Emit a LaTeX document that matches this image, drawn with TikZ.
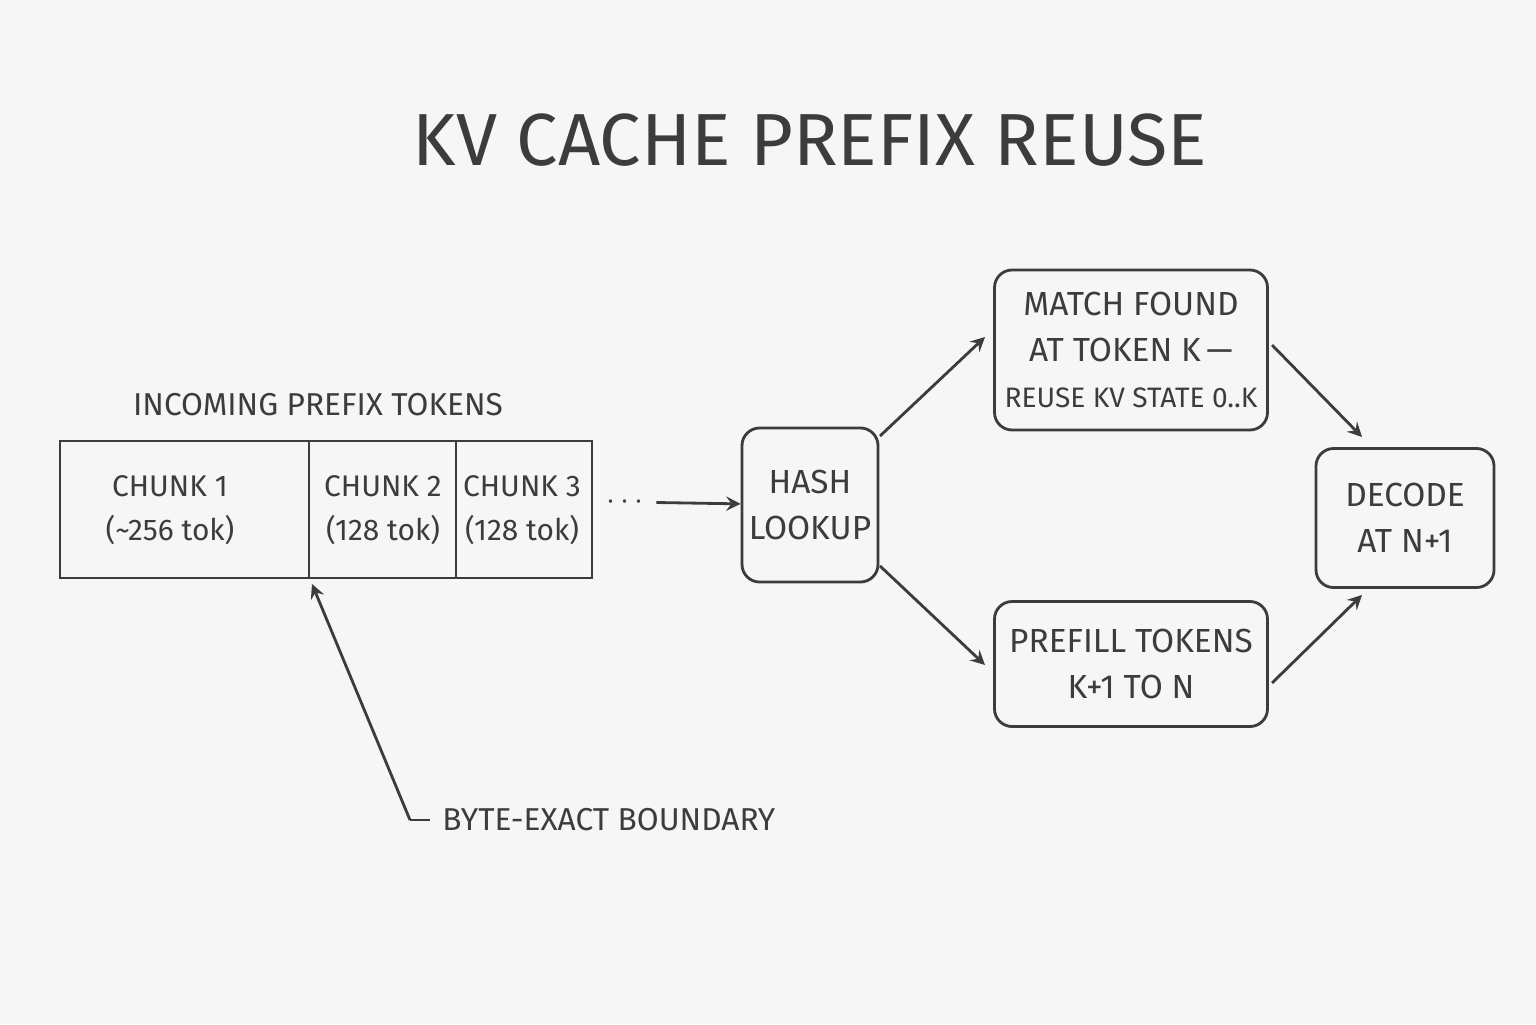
\documentclass[tikz,border=0pt]{standalone}
\usepackage{fontspec}
\setmainfont{Fira Sans}
\usetikzlibrary{positioning}
\definecolor{ink}{RGB}{60,60,60}
\definecolor{paper}{RGB}{246,246,246}

\begin{document}
\begin{tikzpicture}[x=1cm,y=1cm,
    ink/.style={draw=ink, line width=0.8pt},
    box/.style={ink, rounded corners=5pt, align=center, inner sep=0pt, font=\fontsize{9.5}{13}\selectfont, text=ink},
    lbl/.style={text=ink, font=\fontsize{9}{12.5}\selectfont},
    arr/.style={ink, ->, >=stealth}]
    \fill [paper] (0,0) rectangle (15.36,10.24);            % background
    \useasboundingbox (0,0) rectangle (15.36,10.24);

    \node [text=ink, font=\fontsize{21}{25}\selectfont] (title) at (8.1,8.84) {KV CACHE PREFIX REUSE};

    % incoming chunks
    \node [lbl] (incoming) at (3.18,6.19) {INCOMING PREFIX TOKENS};
    \draw [ink] (0.60,4.46) rectangle (5.92,5.83);
    \draw [ink] (3.09,4.46) -- (3.09,5.83);
    \draw [ink] (4.56,4.46) -- (4.56,5.83);
    \coordinate (seam) at (3.12,4.40);
    \node [lbl, align=center, font=\fontsize{8.5}{12.5}\selectfont] (chunkA) at (1.70,5.14) {CHUNK 1\\(\char"7E 256 tok)};
    \node [lbl, align=center, font=\fontsize{8.5}{12.5}\selectfont] (chunkB) at (3.83,5.14) {CHUNK 2\\(128 tok)};
    \node [lbl, align=center, font=\fontsize{8.5}{12.5}\selectfont] (chunkC) at (5.22,5.14) {CHUNK 3\\(128 tok)};
    \node [lbl] (dots) at (6.25,5.22) {$\cdots$};

    % flow boxes
    \node [box, minimum width=1.36cm, minimum height=1.54cm] (hash) at (8.10,5.19) {HASH\\LOOKUP};
    \node [box, minimum width=2.73cm, minimum height=1.60cm] (match) at (11.31,6.74) {MATCH FOUND\\AT TOKEN K\,---\\{\fontsize{8}{13}\selectfont REUSE KV STATE 0..K}};
    \node [box, minimum width=2.73cm, minimum height=1.25cm] (prefill) at (11.31,3.60) {PREFILL TOKENS\\K+1 TO N};
    \node [box, minimum width=1.78cm, minimum height=1.39cm] (decode) at (14.05,5.06) {DECODE\\AT N+1};

    \coordinate (matchIn) at (9.85,6.87);
    \coordinate (matchOut) at (12.72,6.79);
    \coordinate (prefillIn) at (9.85,3.59);
    \coordinate (prefillOut) at (12.72,3.41);
    \coordinate (decodeIn) at (13.62,5.87);
    \coordinate (decodeIn2) at (13.62,4.29);

    \draw [arr] (dots) -- (hash);
    \draw [arr] (8.80,5.88) -- (matchIn);
    \draw [arr] (8.80,4.58) -- (prefillIn);
    \draw [arr] (matchOut) -- (decodeIn);
    \draw [arr] (prefillOut) -- (decodeIn2);

    % boundary callout
    \coordinate (bend) at (4.10,2.04);
    \node [lbl, anchor=west] (boundary) at (4.30,2.04) {BYTE-EXACT BOUNDARY};
    \draw [ink] (boundary.west) -- (bend);
    \draw [arr] (bend) -- (seam);
\end{tikzpicture}
\end{document}
